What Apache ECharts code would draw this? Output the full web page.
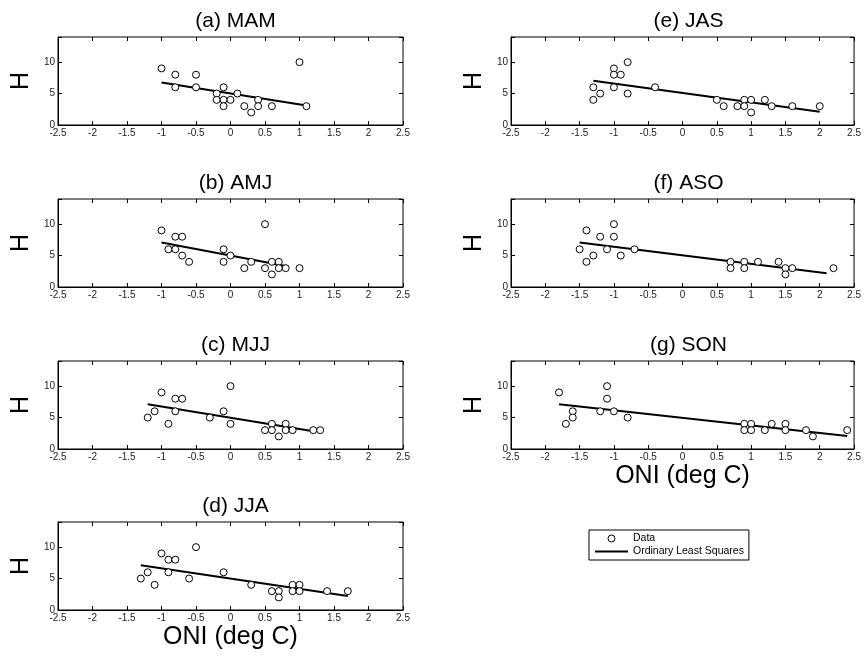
<!DOCTYPE html>
<html><head><meta charset="utf-8">
<script src="https://cdn.jsdelivr.net/npm/echarts@6/dist/echarts.min.js"></script>
<style>html,body{margin:0;padding:0;background:#fff}#c{width:864px;height:658px}</style>
</head><body><div id="c"></div>
<script>
// ---- data ----
const mamX = [-1.0,-0.8,-0.8,-0.5,-0.5,-0.1,-0.2,-0.2,-0.1,-0.1,0.0,0.1,0.2,0.3,0.4,0.4,0.6,1.0,1.1];
const mamY = [9,8,6,8,6,6,5,4,4,3,4,5,3,2,4,3,3,10,3];
const mamFitX = [-1.0, 1.1];
const mamFitY = [6.77, 3.12];

const amjX = [-1.0,-0.9,-0.8,-0.8,-0.7,-0.7,-0.6,-0.1,-0.1,0.0,0.2,0.3,0.5,0.5,0.6,0.6,0.7,0.7,0.8,1.0];
const amjY = [9,6,8,6,8,5,4,6,4,5,3,4,10,3,4,2,4,3,3,3];
const amjFitX = [-1.0, 0.8];
const amjFitY = [7.07, 3.35];

const mjjX = [-1.2,-1.1,-1.0,-0.9,-0.8,-0.8,-0.7,-0.3,-0.1,0.0,0.0,0.5,0.6,0.6,0.7,0.8,0.8,0.9,1.2,1.3];
const mjjY = [5,6,9,4,8,6,8,5,6,10,4,3,4,3,2,4,3,3,3,3];
const mjjFitX = [-1.2, 1.2];
const mjjFitY = [7.13, 2.82];

const jjaX = [-1.3,-1.2,-1.1,-1.0,-0.9,-0.9,-0.8,-0.6,-0.5,-0.1,0.3,0.6,0.7,0.7,0.9,0.9,1.0,1.0,1.4,1.7];
const jjaY = [5,6,4,9,8,6,8,5,10,6,4,3,3,2,4,3,4,3,3,3];
const jjaFitX = [-1.3, 1.7];
const jjaFitY = [7.13, 2.23];

const jasX = [-1.3,-1.3,-1.2,-1.0,-1.0,-1.0,-0.9,-0.8,-0.8,-0.4,0.5,0.6,0.8,0.9,0.9,1.0,1.0,1.2,1.3,1.6,2.0];
const jasY = [6,4,5,9,8,6,8,10,5,6,4,3,3,4,3,4,2,4,3,3,3];
const jasFitX = [-1.3, 2.0];
const jasFitY = [7.04, 2.12];

const asoX = [-1.5,-1.4,-1.4,-1.3,-1.2,-1.1,-1.0,-1.0,-0.9,-0.7,0.7,0.7,0.9,0.9,1.1,1.4,1.5,1.5,1.6,2.2];
const asoY = [6,9,4,5,8,6,10,8,5,6,4,3,4,3,4,4,3,2,3,3];
const asoFitX = [-1.5, 2.1];
const asoFitY = [7.07, 2.18];

const sonX = [-1.8,-1.7,-1.6,-1.6,-1.2,-1.1,-1.1,-1.0,-0.8,0.9,0.9,1.0,1.0,1.2,1.3,1.5,1.5,1.8,1.9,2.4];
const sonY = [9,4,6,5,6,10,8,6,5,4,3,4,3,3,4,4,3,3,2,3];
const sonFitX = [-1.8, 2.4];
const sonFitY = [7.13, 2.07];

const panelTitles = ['(a) MAM','(b) AMJ','(c) MJJ','(d) JJA','(e) JAS','(f) ASO','(g) SON'];
const xMin = -2.5, xMax = 2.5, xStep = 0.5;
const yMin = 0, yMax = 14, yStep = 5;
const xName = 'ONI (deg C)';
const yName = 'H';

const panels = [
  {x: mamX, y: mamY, fx: mamFitX, fy: mamFitY, col: 0, row: 0},
  {x: amjX, y: amjY, fx: amjFitX, fy: amjFitY, col: 0, row: 1},
  {x: mjjX, y: mjjY, fx: mjjFitX, fy: mjjFitY, col: 0, row: 2},
  {x: jjaX, y: jjaY, fx: jjaFitX, fy: jjaFitY, col: 0, row: 3, xlab: true},
  {x: jasX, y: jasY, fx: jasFitX, fy: jasFitY, col: 1, row: 0},
  {x: asoX, y: asoY, fx: asoFitX, fy: asoFitY, col: 1, row: 1},
  {x: sonX, y: sonY, fx: sonFitX, fy: sonFitY, col: 1, row: 2, xlab: true}
];

// ---- layout ----
const FONT = 'Liberation Sans, Arial, Helvetica, sans-serif';
const colLeft = [58, 511];
const gridW = 345;
const rowTop = [37, 199, 361, 522];
const gridH = 88;

const grids = [], xAxes = [], yAxes = [], series = [], titles = [];
panels.forEach((p, i) => {
  const left = colLeft[p.col], top = rowTop[p.row];
  grids.push({left: left, top: top, width: gridW, height: gridH, show: true,
    borderColor: '#000', borderWidth: 1, backgroundColor: '#fff', containLabel: false});
  titles.push({text: panelTitles[i], left: left + gridW / 2, top: top - 31, textAlign: 'center',
    textStyle: {fontSize: 21, fontWeight: 'normal', fontFamily: FONT, color: '#000'}});
  xAxes.push({type: 'value', gridIndex: i, min: xMin, max: xMax, interval: xStep, position: 'bottom',
    axisLine: {show: true, onZero: false, lineStyle: {color: '#000', width: 1}},
    axisTick: {show: true, inside: true, length: 4, lineStyle: {color: '#000'}},
    axisLabel: {fontSize: 10, color: '#222', fontFamily: FONT, margin: 3,
      formatter: v => String(v)},
    splitLine: {show: false},
    name: p.xlab ? xName : '', nameLocation: 'middle', nameGap: 15,
    nameTextStyle: {fontSize: 25, color: '#000', fontFamily: FONT}});
  yAxes.push({type: 'value', gridIndex: i, min: yMin, max: yMax, interval: yStep, position: 'left',
    axisLine: {show: true, onZero: false, lineStyle: {color: '#000', width: 1}},
    axisTick: {show: true, inside: true, length: 4, lineStyle: {color: '#000'}},
    axisLabel: {fontSize: 10, color: '#222', fontFamily: FONT, margin: 3,
      formatter: v => (v % yStep === 0 ? String(v) : '')},
    splitLine: {show: false},
    name: yName, nameLocation: 'middle', nameGap: 24, nameRotate: 90,
    nameTextStyle: {fontSize: 25, color: '#000', fontFamily: FONT}});
});
// mirrored ticks on top/right
panels.forEach((p, i) => {
  xAxes.push({type: 'value', gridIndex: i, min: xMin, max: xMax, interval: xStep, position: 'top',
    axisLine: {show: false, onZero: false}, axisLabel: {show: false}, splitLine: {show: false},
    axisTick: {show: true, inside: true, length: 4, lineStyle: {color: '#000'}}});
  yAxes.push({type: 'value', gridIndex: i, min: yMin, max: yMax, interval: yStep, position: 'right',
    axisLine: {show: false, onZero: false}, axisLabel: {show: false}, splitLine: {show: false},
    axisTick: {show: true, inside: true, length: 4, lineStyle: {color: '#000'}}});
});
panels.forEach((p, i) => {
  series.push({name: 'Data', type: 'scatter', xAxisIndex: i, yAxisIndex: i,
    symbol: 'circle', symbolSize: 7,
    itemStyle: {color: '#fff', borderColor: '#000', borderWidth: 1, opacity: 1},
    emphasis: {disabled: true}, z: 3,
    data: p.x.map((v, k) => [v, p.y[k]])});
  series.push({name: 'Ordinary Least Squares', type: 'line', xAxisIndex: i, yAxisIndex: i,
    symbol: 'none', showSymbol: false, lineStyle: {color: '#000', width: 2},
    itemStyle: {color: '#000'}, z: 2,
    data: p.fx.map((v, k) => [v, p.fy[k]])});
});

const chart = echarts.init(document.getElementById('c'), null, {renderer: 'canvas'});
chart.setOption({
  animation: false,
  backgroundColor: '#fff',
  title: titles,
  grid: grids,
  xAxis: xAxes,
  yAxis: yAxes,
  legend: {
    data: [
      {name: 'Data', itemStyle: {color: '#fff', borderColor: '#000', borderWidth: 1}},
      {name: 'Ordinary Least Squares', itemStyle: {opacity: 0}}
    ],
    left: 589, top: 530, orient: 'vertical',
    padding: [3, 5, 3, 5], itemGap: 2, itemWidth: 33, itemHeight: 7,
    borderColor: '#000', borderWidth: 1, backgroundColor: '#fff',
    textStyle: {fontSize: 10.5, color: '#000', fontFamily: FONT},
    selectedMode: false
  },
  series: series
});
</script>
</body></html>
